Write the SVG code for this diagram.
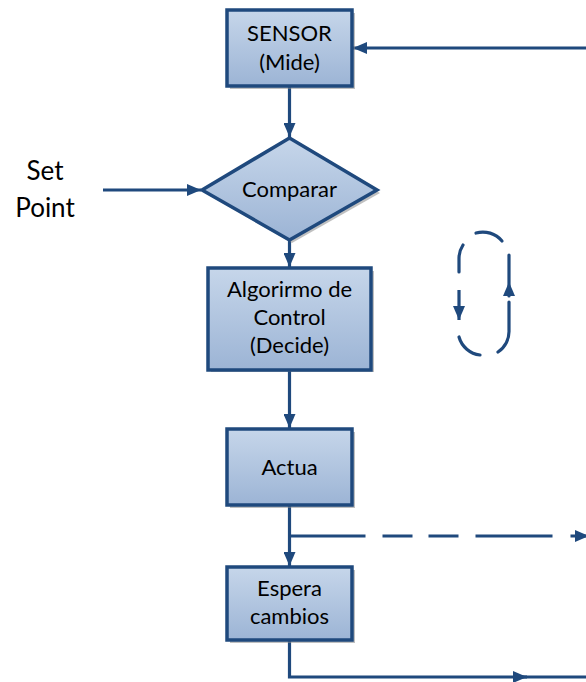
<svg xmlns="http://www.w3.org/2000/svg" width="586" height="682" viewBox="0 0 586 682">
<defs>
<linearGradient id="g" x1="0" y1="0" x2="0" y2="1">
<stop offset="0" stop-color="#C6D6EA"/>
<stop offset="1" stop-color="#9CB4D5"/>
</linearGradient>
<marker id="ah" markerUnits="userSpaceOnUse" markerWidth="14" markerHeight="12" viewBox="0 0 14 12" refX="14" refY="6" orient="auto">
<path d="M0,0 L14,6 L0,12 z" fill="#1F497D"/>
</marker>
</defs>
<style>
.box{fill:url(#g);stroke:#1F497D;stroke-width:3.5}
.sh{fill:#8c8c8c;opacity:.55}
.t{font-family:Lato,"Open Sans","Liberation Sans",sans-serif;font-size:22px;fill:#000;text-anchor:middle}
.big{font-size:26px}
.c{fill:none;stroke:#1F497D;stroke-width:3.2}
.ah{fill:#1F497D}
</style>
<g id="connectors">
<path class="c" d="M586,48 H353" marker-end="url(#ah)"/>
<path class="c" d="M289.5,87 V137" marker-end="url(#ah)"/>
<path class="c" d="M103,190 H201" marker-end="url(#ah)"/>
<path class="c" d="M289.5,241 V267" marker-end="url(#ah)"/>
<path class="c" d="M289.5,371 V428" marker-end="url(#ah)"/>
<path class="c" d="M289.5,506 V566" marker-end="url(#ah)"/>
<path class="c" d="M289.5,536 H589" stroke-dasharray="76 17 30 16 30 17 77 18 40" marker-end="url(#ah)"/>
<path class="c" d="M289.5,641 V677 H527" marker-end="url(#ah)"/>
<path class="c" d="M520,677 H586"/>
<g id="loop">
<path class="c" stroke-linecap="round" d="M476,233 A25,25 0 0 1 502,241"/>
<path class="c" stroke-linecap="round" d="M463,245 A25,25 0 0 0 459,258 V272"/>
<path class="c" d="M459,290 V320" marker-end="url(#ah)"/>
<path class="c" stroke-linecap="round" d="M459,337 A25,25 0 0 0 480,355"/>
<path class="c" stroke-linecap="round" d="M498,352 A25,25 0 0 0 509,330 V302"/>
<path class="c" stroke-linecap="round" d="M509,296 V255"/>
<path class="ah" d="M509,282 L515,296 L503,296 z"/>
</g>
</g>
<g id="sensor">
<rect class="sh" x="230" y="13" width="125" height="76"/>
<rect class="box" x="227" y="10" width="125" height="76"/>
<text class="t" x="289.5" y="41">SENSOR</text>
<text class="t" x="289.5" y="70">(Mide)</text>
</g>
<g id="setpoint">
<text class="t big" x="45" y="180">Set</text>
<text class="t big" x="45" y="217">Point</text>
</g>
<g id="comparar">
<polygon class="sh" points="205,193 292,141 380,193 292,243"/>
<polygon class="box" points="202,190 289.5,138 377,190 289.5,240"/>
<text class="t" x="289.5" y="197">Comparar</text>
</g>
<g id="algoritmo">
<rect class="sh" x="211" y="271" width="163" height="101"/>
<rect class="box" x="208" y="268" width="163" height="102"/>
<text class="t" x="289.5" y="297">Algorirmo de</text>
<text class="t" x="289.5" y="325">Control</text>
<text class="t" x="289.5" y="353">(Decide)</text>
</g>
<g id="actua">
<rect class="sh" x="230" y="432" width="125" height="76"/>
<rect class="box" x="227" y="429" width="125" height="76"/>
<text class="t" x="289.5" y="475">Actua</text>
</g>
<g id="espera">
<rect class="sh" x="230" y="570" width="125" height="73"/>
<rect class="box" x="227" y="567" width="125" height="73"/>
<text class="t" x="289.5" y="596">Espera</text>
<text class="t" x="289.5" y="624">cambios</text>
</g>
</svg>
